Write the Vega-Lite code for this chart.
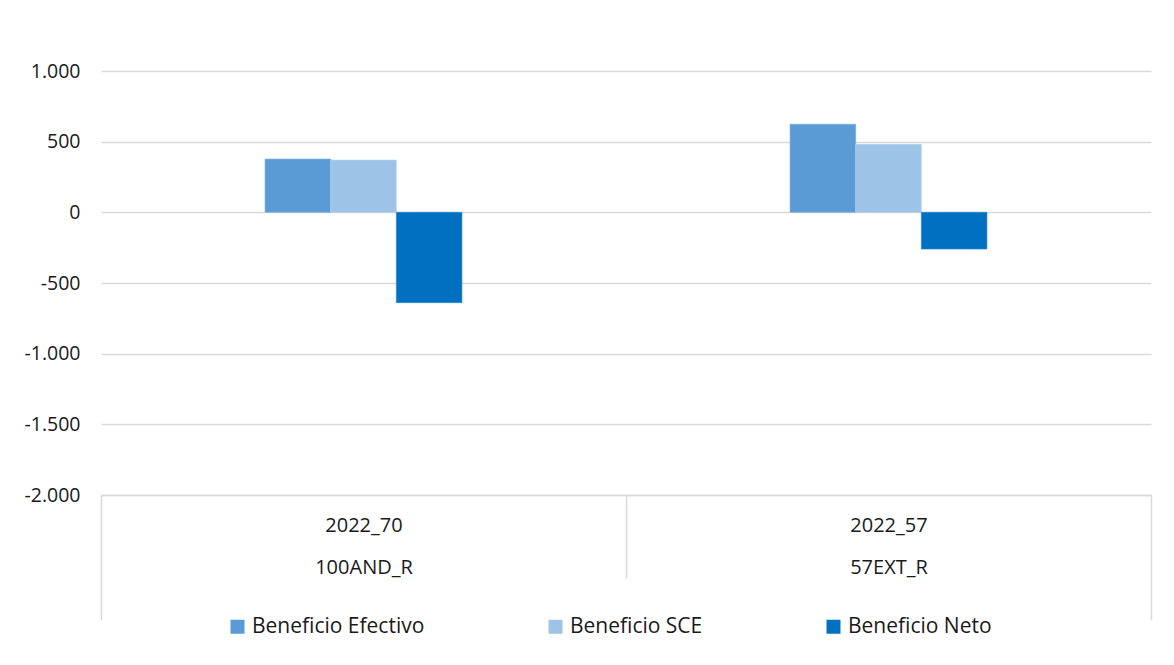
{
  "$schema": "https://vega.github.io/schema/vega-lite/v6.json",
  "autosize": "none",
  "padding": {"left": 101, "top": 71, "right": 23, "bottom": 170},
  "width": 1050,
  "height": 424,
  "background": "white",
  "data": {
    "values": [
      {"cat": "2022_70|100AND_R", "serie": "Beneficio Efectivo", "valor": 377},
      {"cat": "2022_70|100AND_R", "serie": "Beneficio SCE", "valor": 370},
      {"cat": "2022_70|100AND_R", "serie": "Beneficio Neto", "valor": -639},
      {"cat": "2022_57|57EXT_R", "serie": "Beneficio Efectivo", "valor": 624},
      {"cat": "2022_57|57EXT_R", "serie": "Beneficio SCE", "valor": 481},
      {"cat": "2022_57|57EXT_R", "serie": "Beneficio Neto", "valor": -260}
    ]
  },
  "mark": {"type": "bar", "strokeWidth": 1, "strokeOpacity": 0.6},
  "encoding": {
    "x": {
      "field": "cat",
      "type": "nominal",
      "sort": null,
      "scale": {"paddingInner": 0, "paddingOuter": 0},
      "axis": {
        "title": null,
        "values": ["2022_57|57EXT_R", "2022_70|100AND_R"],
        "labelAngle": 0,
        "labelExpr": "split(datum.label, '|')",
        "labelLineHeight": 42,
        "labelFont": "Open Sans",
        "labelFontSize": 20,
        "labelColor": "#1a1a1a",
        "labelPadding": {"condition": {"test": "datum.value === '2022_57|57EXT_R'", "value": -105}, "value": -63},
        "labelBaseline": "top",
        "domain": true,
        "domainColor": "#d9d9d9",
        "domainWidth": 1.5,
        "ticks": true,
        "tickBand": "extent",
        "tickColor": "#d9d9d9",
        "tickWidth": 1.5,
        "tickSize": {"condition": {"test": "datum.index === 0", "value": 83}, "value": 125}
      }
    },
    "xOffset": {
      "field": "serie",
      "type": "nominal",
      "scale": {
        "domain": ["_a", "_b", "Beneficio Efectivo", "Beneficio SCE", "Beneficio Neto", "_c", "_d"],
        "paddingInner": 0,
        "paddingOuter": 0.5
      }
    },
    "y": {
      "field": "valor",
      "type": "quantitative",
      "scale": {"domain": [-2000, 1000], "nice": false, "zero": false},
      "axis": {
        "title": null,
        "values": [-2000, -1500, -1000, -500, 0, 500, 1000],
        "labelExpr": "(datum.value < 0 ? '-' : '') + replace(format(abs(datum.value), ','), ',', '.')",
        "labelFont": "Open Sans",
        "labelFontSize": 19.5,
        "labelColor": "#1a1a1a",
        "labelPadding": 21,
        "domain": false,
        "ticks": false,
        "grid": true,
        "gridColor": "#d9d9d9",
        "gridWidth": 1.5
      }
    },
    "color": {
      "field": "serie",
      "type": "nominal",
      "sort": ["Beneficio Efectivo", "Beneficio SCE", "Beneficio Neto"],
      "scale": {
        "domain": ["Beneficio Efectivo", "Beneficio SCE", "Beneficio Neto"],
        "range": ["#5B9BD5", "#9DC3E6", "#0070C0"]
      },
      "legend": {
        "title": null,
        "orient": "none",
        "direction": "horizontal",
        "legendX": 126,
        "legendY": 545,
        "symbolType": "square",
        "symbolSize": 196,
        "symbolStrokeWidth": 0,
        "symbolOpacity": 1,
        "labelFont": "Open Sans",
        "labelFontSize": 21,
        "labelColor": "#1a1a1a",
        "labelLimit": 0,
        "labelOffset": 4,
        "columnPadding": 120
      }
    },
    "stroke": {
      "field": "serie",
      "type": "nominal",
      "scale": {
        "domain": ["Beneficio Efectivo", "Beneficio SCE", "Beneficio Neto"],
        "range": ["#7aaee0", "#b4d2ee", "#2a88d0"]
      },
      "legend": null
    }
  },
  "config": {
    "view": {"stroke": null}
  }
}
